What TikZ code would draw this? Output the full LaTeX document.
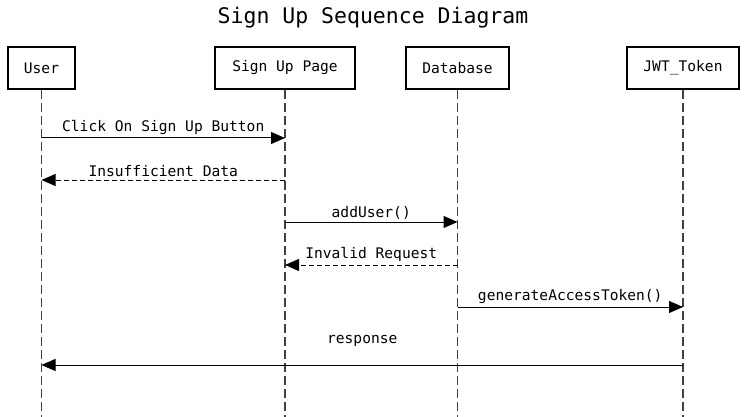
\documentclass[tikz,border=0pt]{standalone}
\usepackage{fontspec}
\setmonofont{DejaVu Sans Mono}
\usetikzlibrary{arrows.meta}

\begin{document}
\begin{tikzpicture}[x=1pt, y=-1pt,
    font=\ttfamily\fontsize{14.6}{16}\selectfont,
    actor/.style={draw, line width=2pt, minimum height=42pt, inner sep=0pt},
    lifeline/.style={draw=black!75, line width=1.2pt, dash pattern=on 9pt off 4pt},
    msg/.style={draw, line width=1pt, -{Triangle[length=14pt, width=12pt]}},
    reply/.style={msg, dash pattern=on 5pt off 3pt},
    lbl/.style={above, inner sep=2.5pt}]
  \useasboundingbox (0,0) rectangle (747,417);

  % Title
  \node (title) at (373,18) {\fontsize{21.5}{24}\selectfont Sign Up Sequence Diagram};

  % Participants
  \node[actor, minimum width=67pt]  (user) at (41.5,68)  {User};
  \node[actor, minimum width=140pt] (page) at (285,68)   {Sign Up Page};
  \node[actor, minimum width=103pt] (db)   at (457.5,68) {Database};
  \node[actor, minimum width=112pt] (jwt)  at (683,68)   {JWT\_Token};
  \coordinate (bottom) at (0,417);

  % Lifelines
  \foreach \p in {user,page,db,jwt}
    \draw[lifeline] (\p.south) -- (\p |- bottom);

  % Messages
  \draw[msg]   (user |- 0,138) -- node[lbl] {Click On Sign Up Button} (page |- 0,138);
  \draw[reply] (page |- 0,180) -- node[lbl] {Insufficient Data} (user |- 0,180);
  \draw[msg]   (page |- 0,222) -- node[lbl] {addUser()} (db |- 0,222);
  \draw[reply] (db |- 0,265)   -- node[lbl] {Invalid Request} (page |- 0,265);
  \draw[msg]   (db |- 0,307)   -- node[lbl] {generateAccessToken()} (jwt |- 0,307);
  \draw[msg]   (jwt |- 0,365)  -- node[lbl, yshift=15pt] {response} (user |- 0,365);
\end{tikzpicture}
\end{document}
